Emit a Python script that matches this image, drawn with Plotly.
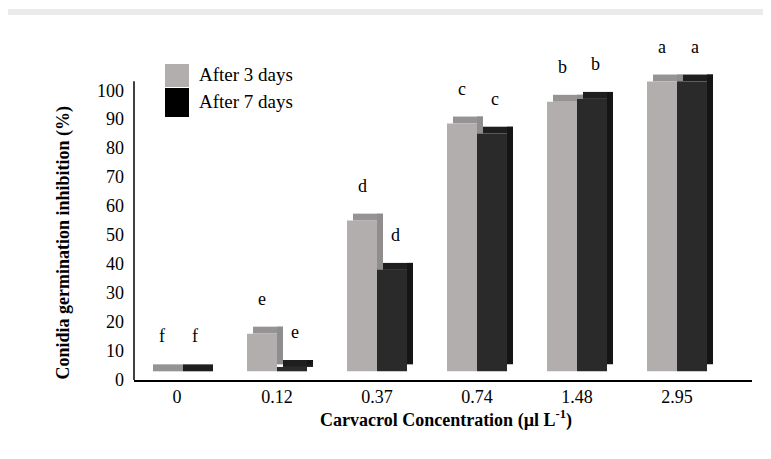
import plotly.graph_objects as go

categories = ["0", "0.12", "0.37", "0.74", "1.48", "2.95"]
after_3_days = [0, 13, 52, 85.5, 93, 100]
after_7_days = [0, 1.5, 35, 82, 94, 100]
letters_3 = ["f", "e", "d", "c", "b", "a"]
letters_7 = ["f", "e", "d", "c", "b", "a"]
y_ticks = list(range(0, 101, 10))
series_names = ["After 3 days", "After 7 days"]

FONT = "Liberation Serif, Times New Roman, serif"
floor = 3.0      # 3D floor lift (style)
depth = 2.4      # 3D top-face thickness (style)
shift = 0.06     # 3D horizontal shift (style)
W = 0.30
Y_TOP = 108.0    # range top (room for 3D tops)
AXIS_TOP = 103.1 # visible y-axis line top

g_front, g_top, g_side = "#b2aeae", "#959393", "#8f8d8d"
k_front, k_top, k_side = "#2a2a2a", "#1e1e1e", "#151515"

# page body has an 8px margin -> compensate so the plot area sits at screen x 134-752, y 67-380
OFF = 8
PL, PR = 134, 752
PB = 380
PT = PB - round(Y_TOP * 2.9)
PH = PB - PT
PW = PR - PL

n = len(categories)
fig = go.Figure()

def bar(y, base, offset, width, color):
    fig.add_trace(go.Bar(
        x=categories, y=y, base=base, offset=offset, width=[width] * n,
        marker=dict(color=color, line=dict(width=0)),
        showlegend=False, hoverinfo="skip"))

# gray series (after 3 days)
bar([depth] * n, [floor + v for v in after_3_days], -W + shift, W, g_top)
bar(after_3_days, [floor + depth] * n, 0.0, shift, g_side)
bar(after_3_days, [floor] * n, -W, W, g_front)
# black series (after 7 days)
bar([depth] * n, [floor + v for v in after_7_days], shift, W, k_top)
bar(after_7_days, [floor + depth] * n, W, shift, k_side)
bar(after_7_days, [floor] * n, 0.0, W, k_front)

def px(x):
    return (x - PL) / PW

def py(y):
    return (PB - y) / PH

letter_font = dict(family=FONT, size=18, color="black")
annotations = []
for i in range(n):
    annotations.append(dict(x=i, y=floor + after_3_days[i] + depth, xref="x", yref="y",
                            text=letters_3[i], showarrow=False, xshift=-15, yshift=28,
                            yanchor="middle", font=letter_font))
    annotations.append(dict(x=i, y=floor + after_7_days[i] + depth, xref="x", yref="y",
                            text=letters_7[i], showarrow=False, xshift=18, yshift=28,
                            yanchor="middle", font=letter_font))

# axis titles
annotations.append(dict(xref="paper", yref="paper", x=px(50), y=py(243),
                        text="<b>Conidia germination inhibition (%)</b>", textangle=-90,
                        showarrow=False, font=dict(family=FONT, size=18, color="black")))
annotations.append(dict(xref="paper", yref="paper", x=px(446), y=py(433),
                        text="<b>Carvacrol Concentration (µl L<sup>-1</sup>)</b>",
                        showarrow=False, font=dict(family=FONT, size=18, color="black")))

legend_boxes = [(64, 87, g_front), (88, 117, "#000000")]
shapes = [
    dict(type="rect", xref="paper", yref="paper", x0=px(-20), x1=px(800), y0=py(480), y1=py(12),
         line=dict(color="#ebebeb", width=6), layer="below"),
    dict(type="line", xref="paper", yref="y", x0=0, x1=0, y0=0, y1=AXIS_TOP,
         line=dict(color="black", width=1.5)),
]
for (y0, y1, col), name in zip(legend_boxes, series_names):
    shapes.append(dict(type="rect", xref="paper", yref="paper", x0=px(165), x1=px(189),
                       y0=py(y1), y1=py(y0), fillcolor=col, line=dict(width=0)))
    annotations.append(dict(xref="paper", yref="paper", x=px(197), y=py((y0 + y1) / 2 - 1),
                            xanchor="left", yanchor="middle", text=name, showarrow=False,
                            font=dict(family=FONT, size=19, color="black")))

fig.update_layout(
    width=771, height=459,
    margin=dict(l=PL - OFF, r=771 - (PR - OFF), t=PT - OFF, b=459 - (PB - OFF),
                autoexpand=False),
    paper_bgcolor="white", plot_bgcolor="white",
    barmode="overlay",
    font=dict(family=FONT, size=18, color="black"),
    showlegend=False,
    annotations=annotations,
    shapes=shapes,
)
fig.update_xaxes(type="category", categoryorder="array", categoryarray=categories,
                 range=[-0.43, 5.75], showline=True, linecolor="black", linewidth=1.5,
                 ticks="", showgrid=False, zeroline=False,
                 tickfont=dict(family=FONT, size=18, color="black"))
fig.update_yaxes(range=[0, Y_TOP], tickvals=y_ticks, showline=False,
                 ticks="", showgrid=False, zeroline=False,
                 ticklabelstandoff=9,
                 tickfont=dict(family=FONT, size=18, color="black"))

fig.write_html("out.html")
